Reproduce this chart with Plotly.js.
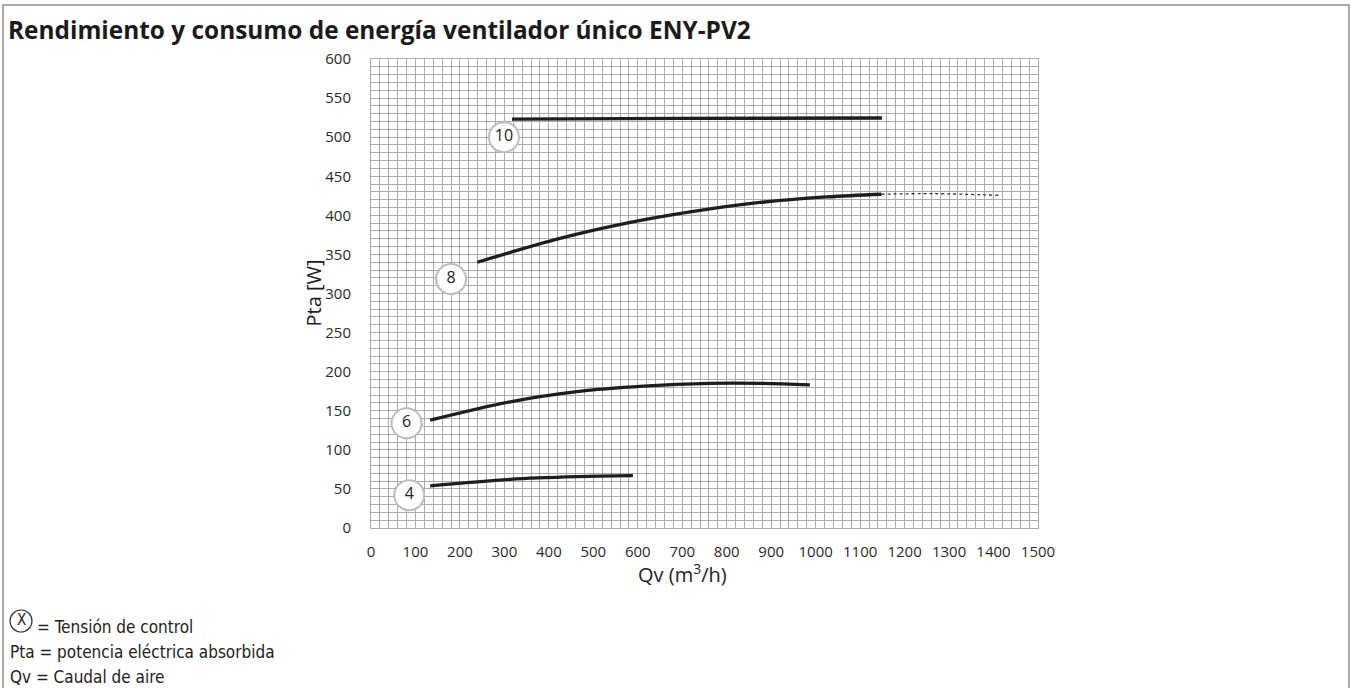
<!DOCTYPE html>
<html>
<head>
<meta charset="utf-8">
<script src="https://cdn.plot.ly/plotly-3.0.1.min.js"></script>
<style>html,body{margin:0;padding:0;background:#fff;overflow:hidden;}#chart{width:1351px;height:688px;}</style>
</head>
<body>
<div id="chart"></div>
<script>
// Curve data (Qv in m3/h, Pta in W)
const q4 = [133, 313, 463, 589];
const p4 = [54, 62.3, 65.7, 67];
const q6 = [133, 313, 463, 613, 762, 875, 987];
const p6 = [138, 161.5, 174.5, 181.5, 185, 185, 183];
const q8 = [239, 425, 575, 725, 875, 1025, 1148];
const p8 = [340, 370.5, 390, 405, 416.5, 423.5, 427];
const q8ext = [1148, 1264, 1414];
const p8ext = [427, 427.7, 425.6];
const q10 = [317, 700, 1149];
const p10 = [523, 524, 524.5];
// Voltage labels
const labelText = ['4', '6', '8', '10'];
const labelQ = [86, 80, 180, 299];
const labelP = [42, 134, 318.5, 500];
// Tick labels
const xTicks = [0,100,200,300,400,500,600,700,800,900,1000,1100,1200,1300,1400,1500];
const yTicks = [0,50,100,150,200,250,300,350,400,450,500,550,600];

const W = 1351, H = 688;
const L = 371, R = 1038, T = 59, B = 528;
const px = v => (v - L) / (R - L);
const py = v => (B - v) / (B - T);

const lineStyle = {color: '#1e1e1e', width: 3.3, shape: 'spline', smoothing: 1};
const traces = [
  {x: q4, y: p4, mode: 'lines', line: lineStyle, hoverinfo: 'skip'},
  {x: q6, y: p6, mode: 'lines', line: lineStyle, hoverinfo: 'skip'},
  {x: q8, y: p8, mode: 'lines', line: lineStyle, hoverinfo: 'skip'},
  {x: q8ext, y: p8ext, mode: 'lines', line: {color: '#333', width: 1.3, dash: 'dot', shape: 'spline'}, hoverinfo: 'skip'},
  {x: q10, y: p10, mode: 'lines', line: lineStyle, hoverinfo: 'skip'},
  {x: labelQ, y: labelP, text: labelText, mode: 'markers+text', textposition: 'middle center',
   marker: {size: 30, color: '#fff', line: {color: '#bdbdbd', width: 2}},
   textfont: {family: 'Open Sans', size: 16, color: '#222'}, hoverinfo: 'skip', cliponaxis: false}
];

const tickFont = {family: 'Open Sans', size: 15, color: '#2a2a2a'};
const gridC = '#ababab';
const narrow = 'Liberation Sans Narrow, DejaVu Sans Condensed, Open Sans';
const layout = {
  width: W, height: H,
  margin: {l: L, r: W - R, t: T, b: H - B, pad: 0},
  paper_bgcolor: '#fff', plot_bgcolor: '#fff',
  showlegend: false,
  title: {text: '<b>Rendimiento y consumo de energía ventilador único ENY-PV2</b>',
          xref: 'container', yref: 'container', x: 8 / W, xanchor: 'left', y: 1 - 30 / H, yanchor: 'middle',
          font: {family: 'Open Sans', size: 24.4, color: '#1a1a1a'}},
  xaxis: {range: [0, 1500], tickvals: xTicks, ticktext: xTicks.map(String), showgrid: true, gridcolor: gridC, gridwidth: 1,
          minor: {dtick: 20, showgrid: true, gridcolor: gridC, gridwidth: 1},
          zeroline: false, showline: true, mirror: true, linecolor: gridC, linewidth: 1,
          ticks: '', ticklabelstandoff: 10, tickfont: tickFont, fixedrange: true},
  yaxis: {range: [0, 600], tickvals: yTicks, ticktext: yTicks.map(String), showgrid: true, gridcolor: gridC, gridwidth: 1,
          minor: {dtick: 10, showgrid: true, gridcolor: gridC, gridwidth: 1},
          zeroline: false, showline: true, mirror: true, linecolor: gridC, linewidth: 1,
          ticks: '', ticklabelstandoff: 16, tickfont: tickFont, fixedrange: true},
  shapes: [
    {type: 'rect', xref: 'paper', yref: 'paper', x0: px(3), x1: px(1349), y0: py(5), y1: py(720),
     line: {color: '#a9a9a9', width: 2}, fillcolor: 'rgba(0,0,0,0)', layer: 'below'},
    {type: 'circle', xref: 'paper', yref: 'paper', xsizemode: 'pixel', ysizemode: 'pixel',
     xanchor: px(21), yanchor: py(621), x0: -11, x1: 11, y0: -11, y1: 11,
     line: {color: '#333', width: 1.2}, fillcolor: '#fff'}
  ],
  annotations: [
    {text: 'Pta [W]', xref: 'paper', yref: 'paper', x: px(313), y: 0.5, textangle: -90, showarrow: false,
     xanchor: 'center', yanchor: 'middle', font: {family: 'Open Sans', size: 20, color: '#222'}},
    {text: 'Qv (m<sup>3</sup>/h)', xref: 'paper', yref: 'paper', x: px(682), y: py(573), showarrow: false,
     xanchor: 'center', yanchor: 'middle', font: {family: 'Open Sans', size: 20, color: '#222'}},
    {text: 'X', xref: 'paper', yref: 'paper', x: px(21), y: py(620), showarrow: false,
     xanchor: 'center', yanchor: 'middle', font: {family: narrow, size: 15, color: '#222'}},
    {text: '= Tensión de control', xref: 'paper', yref: 'paper', x: px(35), y: py(627), showarrow: false,
     xanchor: 'left', yanchor: 'middle', font: {family: narrow, size: 17, color: '#222'}},
    {text: 'Pta = potencia eléctrica absorbida', xref: 'paper', yref: 'paper', x: px(8), y: py(652), showarrow: false,
     xanchor: 'left', yanchor: 'middle', font: {family: narrow, size: 17, color: '#222'}},
    {text: 'Qv = Caudal de aire', xref: 'paper', yref: 'paper', x: px(8), y: py(677), showarrow: false,
     xanchor: 'left', yanchor: 'middle', font: {family: narrow, size: 17, color: '#222'}}
  ]
};

Plotly.newPlot('chart', traces, layout, {staticPlot: true, displayModeBar: false});
</script>
</body>
</html>
